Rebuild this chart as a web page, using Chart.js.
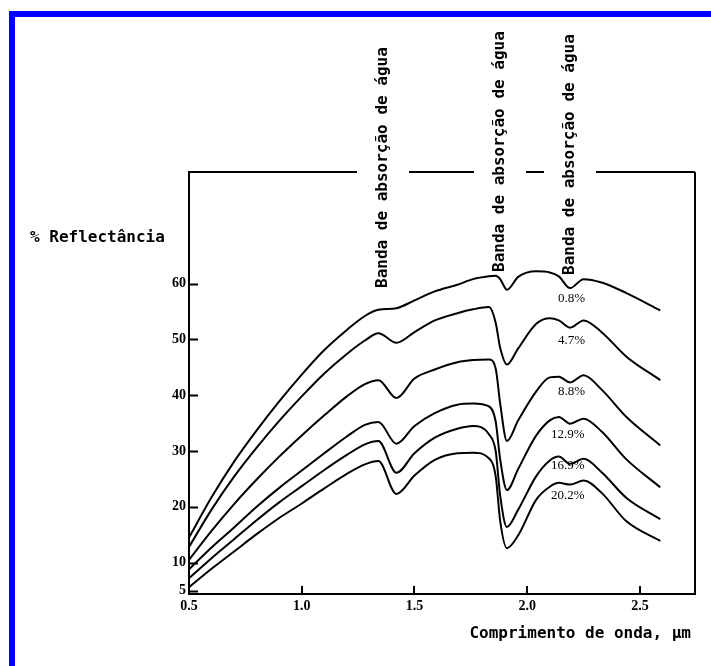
<!DOCTYPE html>
<html>
<head>
<meta charset="utf-8">
<script src="https://cdn.jsdelivr.net/npm/chart.js@4.4.1/dist/chart.umd.min.js"></script>
<style>
  html, body { margin: 0; padding: 0; background: #fff; }
</style>
</head>
<body>
<canvas id="grafico" width="711" height="666"></canvas>
<script>
// comprimento de onda (um)
const wavelength = [0.5, 0.6, 0.7, 0.8, 0.9, 1.0, 1.1, 1.2, 1.28, 1.34, 1.42, 1.5, 1.59, 1.69, 1.76,
  1.83, 1.86, 1.88, 1.91, 1.96, 2.04, 2.1, 2.14, 2.19, 2.25, 2.33, 2.44, 2.59];

// reflectancia (%) para cada teor de umidade
const moist08 = [14.5, 21.7, 28.1, 33.7, 38.9, 43.7, 48.1, 51.7, 54.2, 55.3, 55.6, 57.0, 58.6, 59.8, 60.8,
  61.3, 61.4, 60.8, 58.9, 61.2, 62.2, 62.0, 61.3, 59.2, 60.8, 60.2, 58.3, 55.2];
const moist47 = [12.8, 19.5, 25.4, 30.6, 35.4, 39.8, 43.9, 47.4, 49.8, 51.1, 49.4, 51.3, 53.4, 54.7, 55.4,
  55.8, 53.0, 48.5, 45.5, 48.4, 52.8, 53.8, 53.4, 52.1, 53.4, 51.3, 46.9, 42.7];
const moist88 = [10.5, 15.7, 20.5, 24.9, 29.0, 32.8, 36.4, 39.8, 42.0, 42.7, 39.5, 43.0, 44.6, 45.9, 46.3,
  46.4, 44.8, 38.5, 31.8, 35.5, 40.7, 43.2, 43.3, 42.3, 43.6, 41.0, 36.1, 31.0];
const moist129 = [8.8, 12.7, 16.3, 20.0, 23.4, 26.5, 29.6, 32.6, 34.7, 35.2, 31.3, 34.5, 36.8, 38.3, 38.5,
  38.0, 35.3, 28.5, 23.0, 26.8, 32.8, 35.5, 36.1, 34.9, 35.8, 33.5, 28.5, 23.5];
const moist169 = [7.2, 10.8, 14.2, 17.6, 20.8, 23.7, 26.6, 29.3, 31.2, 31.8, 26.1, 29.6, 32.4, 34.0, 34.5,
  33.0, 30.0, 22.0, 16.4, 19.5, 25.5, 28.3, 29.0, 27.7, 28.6, 26.2, 21.6, 17.8];
const moist202 = [5.6, 8.9, 12.0, 15.1, 18.0, 20.6, 23.3, 25.9, 27.6, 28.2, 22.3, 25.6, 28.4, 29.6, 29.7,
  28.7, 25.5, 17.5, 12.6, 14.9, 21.3, 23.6, 24.3, 24.0, 24.7, 22.5, 17.4, 13.9];

const seriesLabels = ['0.8%', '4.7%', '8.8%', '12.9%', '16.9%', '20.2%'];
const xTicks = [0.5, 1.0, 1.5, 2.0, 2.5];
const yTicks = [5, 10, 20, 30, 40, 50, 60];
const bandText = 'Banda de absorção de água';

const allSeries = [moist08, moist47, moist88, moist129, moist169, moist202];

const datasets = allSeries.map((serie, k) => ({
  label: seriesLabels[k],
  data: wavelength.map((w, i) => ({ x: w, y: serie[i] })),
  borderColor: '#000',
  borderWidth: 2,
  pointRadius: 0,
  fill: false,
  cubicInterpolationMode: 'monotone',
}));

// posicoes das anotacoes (em unidades do grafico)
const curveLabelPos = [[2.196, 57.3], [2.196, 49.8], [2.196, 40.6], [2.18, 33.0], [2.18, 27.4], [2.18, 22.0]];
const bandLabels = [[383, 288], [500, 272], [570, 275]];

const decor = {
  id: 'decor',
  beforeDraw(chart) {
    const c = chart.ctx;
    c.save();
    c.fillStyle = '#fff';
    c.fillRect(0, 0, chart.width, chart.height);
    c.fillStyle = '#0000ff';
    c.fillRect(9, 11, 6, chart.height - 11);
    c.fillRect(9, 11, chart.width - 9, 6);
    c.restore();
  },
  afterDraw(chart) {
    const c = chart.ctx;
    const a = chart.chartArea;
    const xs = chart.scales.x, ys = chart.scales.y;
    c.save();
    c.strokeStyle = '#000';
    c.lineWidth = 2;

    // marcas dos eixos (para dentro)
    c.beginPath();
    yTicks.forEach(v => {
      const py = Math.round(ys.getPixelForValue(v)) + 0.5;
      c.moveTo(a.left, py); c.lineTo(a.left + 9, py);
    });
    xTicks.slice(1).forEach(v => {
      const px = Math.round(xs.getPixelForValue(v));
      c.moveTo(px, a.bottom); c.lineTo(px, a.bottom - 8);
    });
    c.stroke();

    // moldura direita e superior (com intervalos para os textos)
    c.beginPath();
    c.moveTo(a.right, a.top); c.lineTo(a.right, a.bottom);
    let start = a.left;
    bandLabels.forEach(([bx]) => {
      c.moveTo(start, a.top); c.lineTo(bx - 26, a.top);
      start = bx + 26;
    });
    c.moveTo(start, a.top); c.lineTo(a.right, a.top);
    c.stroke();

    // textos verticais
    c.fillStyle = '#000';
    c.font = 'bold 16px "DejaVu Sans Mono"';
    c.textAlign = 'left';
    c.textBaseline = 'middle';
    bandLabels.forEach(([bx, by]) => {
      c.save();
      c.translate(bx, by);
      c.rotate(-Math.PI / 2);
      c.fillText(bandText, 0, 0);
      c.restore();
    });

    // rotulos das curvas
    c.font = '13px "Liberation Serif"';
    c.textAlign = 'center';
    curveLabelPos.forEach(([lx, ly], k) => {
      c.fillText(seriesLabels[k], xs.getPixelForValue(lx), ys.getPixelForValue(ly));
    });

    // titulos dos eixos
    c.font = 'bold 16px "DejaVu Sans Mono"';
    c.textAlign = 'left';
    c.fillText('% Reflectância', 30, 238);
    c.textAlign = 'right';
    c.fillText('Comprimento de onda, µm', 691, 634);
    c.restore();
  },
};

const ctx = document.getElementById('grafico');

const myChart = new Chart(ctx, {
  type: 'line',
  data: { datasets },
  options: {
    responsive: false,
    animation: false,
    devicePixelRatio: 1,
    layout: { padding: { left: 149, top: 172, right: 16, bottom: 42 } },
    plugins: { legend: { display: false }, tooltip: { enabled: false } },
    scales: {
      x: {
        type: 'linear',
        min: 0.5,
        max: 2.744,
        afterBuildTicks: s => { s.ticks = xTicks.map(v => ({ value: v })); },
        afterFit: s => { s.height = 30; },
        ticks: {
          callback: v => v.toFixed(1),
          color: '#000',
          padding: 4,
          maxRotation: 0,
          autoSkip: false,
          font: { family: 'Liberation Serif', weight: 'bold', size: 14 },
        },
        grid: { display: false, drawTicks: false },
        border: { display: true, color: '#000', width: 2 },
      },
      y: {
        min: 4.38,
        max: 80,
        afterBuildTicks: s => { s.ticks = yTicks.map(v => ({ value: v })); },
        afterFit: s => { s.width = 40; },
        ticks: {
          color: '#000',
          padding: 3,
          autoSkip: false,
          font: { family: 'Liberation Serif', weight: 'bold', size: 14 },
        },
        grid: { display: false, drawTicks: false },
        border: { display: true, color: '#000', width: 2 },
      },
    },
  },
  plugins: [decor],
});
</script>
</body>
</html>
